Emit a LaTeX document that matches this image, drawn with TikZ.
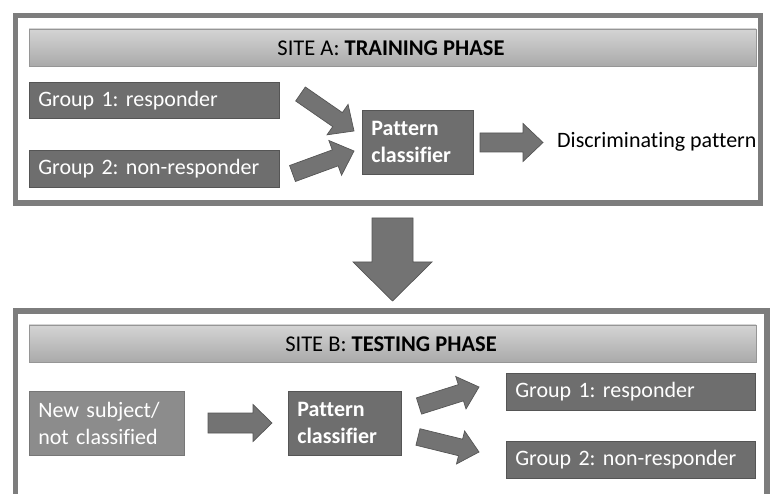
\documentclass[tikz,border=0pt]{standalone}
\usepackage{fontspec}
\setmainfont{Carlito}[Ligatures=NoCommon]
\usetikzlibrary{calc}
\frenchspacing

\definecolor{framegray}{RGB}{125,125,125}
\definecolor{boxgray}{RGB}{110,110,110}
\definecolor{boxedge}{RGB}{85,85,85}
\definecolor{lightbox}{RGB}{140,140,140}
\definecolor{arrowgray}{RGB}{115,115,115}
\definecolor{arrowedge}{RGB}{85,85,85}
\definecolor{headtop}{RGB}{212,212,212}
\definecolor{headbottom}{RGB}{170,170,170}
\definecolor{headedge}{RGB}{150,150,150}

\tikzset{
  phaseframe/.style={draw=framegray, line width=5.5pt},
  headbar/.style={draw=headedge, line width=0.7pt, shading=axis,
    top color=headtop, bottom color=headbottom},
  headtext/.style={font=\fontsize{22.5}{26}\selectfont, text=black, inner sep=0pt},
  groupbox/.style={fill=boxgray, draw=boxedge, line width=0.7pt, text=white,
    font=\fontsize{22}{27}\selectfont, anchor=north west, inner xsep=9pt,
    inner ysep=0pt, align=left, text width=#1-18pt},
  classbox/.style={groupbox=#1, font=\bfseries\fontsize{22}{27}\selectfont},
  newbox/.style={groupbox=#1, fill=lightbox, draw=lightbox!85!black},
  arrowbody/.style={fill=arrowgray, draw=arrowedge, line width=0.7pt, line join=miter},
}

% block arrow: tail centre, tip, shaft half width, head half width, head length
\newcommand\blockarrow[5]{%
  \coordinate (ba-base) at ($(#2)!#5!(#1)$);
  \filldraw[arrowbody]
    ($(#1)!#3!90:(#2)$) -- ($(ba-base)!#3!90:(#2)$) -- ($(ba-base)!#4!90:(#2)$)
    -- (#2) -- ($(ba-base)!#4!-90:(#2)$) -- ($(ba-base)!#3!-90:(#2)$)
    -- ($(#1)!#3!-90:(#2)$) -- cycle;}

\begin{document}
\begin{tikzpicture}[x=1pt, y=-1pt]
  \useasboundingbox (0,0) rectangle (771,494);
  \clip (0,0) rectangle (771,494);
  \fill[white] (0,0) rectangle (771,494);

  % ---------- site A ----------
  \draw[phaseframe] (15.5,15.5) rectangle (760.5,203);
  \draw[headbar] (29,29) rectangle (756,66);
  \node[headtext] (titleA) at (391,48) {SITE A: \textbf{TRAINING PHASE}};

  \node[groupbox=250pt, minimum height=36pt] (g1a) at (29,82) {Group 1: responder};
  \node[groupbox=250pt, minimum height=37pt] (g2a) at (29,150) {Group 2: non-responder};
  \node[classbox=111pt, minimum height=64pt] (pca) at (362,110) {Pattern\\classifier};
  \node[font=\fontsize{22}{26}\selectfont, anchor=base west, inner sep=0pt]
    (disc) at (557,148) {Discriminating pattern};

  \coordinate (a1tail) at (300.5,94);   \coordinate (a1tip) at (354,131);
  \coordinate (a2tail) at (292.5,173.5); \coordinate (a2tip) at (354,151);
  \coordinate (a3tail) at (480,142.5);  \coordinate (a3tip) at (543,142.5);
  \blockarrow{a1tail}{a1tip}{8.5pt}{18.5pt}{20pt}
  \blockarrow{a2tail}{a2tip}{8.5pt}{18.5pt}{20pt}
  \blockarrow{a3tail}{a3tip}{9.5pt}{19pt}{20pt}

  % ---------- transfer between sites ----------
  \coordinate (dtail) at (392.5,218); \coordinate (dtip) at (392.5,301);
  \blockarrow{dtail}{dtip}{20.5pt}{39.5pt}{39pt}

  % ---------- site B ----------
  \draw[phaseframe] (15.5,311) rectangle (767,530);
  \draw[headbar] (29,325) rectangle (756,362);
  \node[headtext] (titleB) at (391,344) {SITE B: \textbf{TESTING PHASE}};

  \node[newbox=155pt, minimum height=64pt] (ns) at (29,391) {New subject/\\not classified};
  \node[classbox=113pt, minimum height=64pt] (pcb) at (288,391) {Pattern\\classifier};
  \node[groupbox=249pt, minimum height=37pt] (g1b) at (506,373) {Group 1: responder};
  \node[groupbox=249pt, minimum height=37pt] (g2b) at (506,441) {Group 2: non-responder};

  \coordinate (a4tail) at (208,423); \coordinate (a4tip) at (272,423);
  \coordinate (a5tail) at (419,406); \coordinate (a5tip) at (479,387);
  \coordinate (a6tail) at (418,437); \coordinate (a6tip) at (479,452);
  \blockarrow{a4tail}{a4tip}{10pt}{18.5pt}{19pt}
  \blockarrow{a5tail}{a5tip}{8.5pt}{17pt}{19pt}
  \blockarrow{a6tail}{a6tip}{8.5pt}{17pt}{19pt}
\end{tikzpicture}
\end{document}
